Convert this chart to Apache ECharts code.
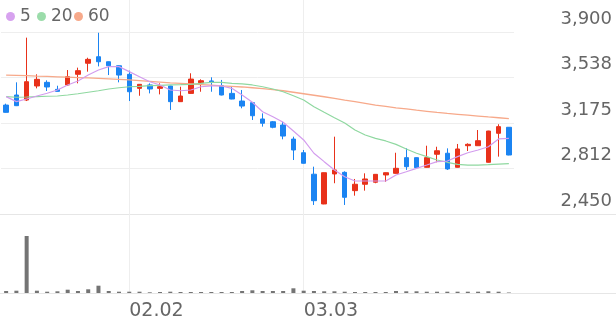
<!DOCTYPE html>
<html><head><meta charset="utf-8">
<script src="https://cdn.jsdelivr.net/npm/echarts@6/dist/echarts.min.js"></script>
<style>html,body{margin:0;padding:0;background:#fff}#c{width:616px;height:321px}</style>
</head><body><div id="c"></div>
<script>
const categories = ['01.15','01.18','01.19','01.20','01.21','01.22','01.25','01.26','01.27','01.28','01.29','02.01',
'02.02','02.03','02.04','02.05','02.08','02.09','02.10','02.15','02.16','02.17','02.18','02.22','02.23','02.24','02.25','02.26','03.02',
'03.03','03.04','03.05','03.08','03.09','03.10','03.11','03.12','03.15','03.16','03.17','03.18','03.19','03.22','03.23','03.24','03.25','03.26','03.29','03.30','03.31'];
const shownDates = ['02.02','03.03'];
const openP = [3318,3398,3358,3470,3499,3443,3478,3563,3651,3703,3663,3631,3563,3451,3478,3451,3470,3345,3411,3496,3510,3472,3411,3350,3337,3207,3185,3159,3047,2938,2767,2530,2769,2782,2636,2687,2703,2761,2774,2899,2899,2822,2926,2934,2822,2994,2994,2862,3093,3141];
const closeP = [3260,3313,3504,3523,3462,3427,3544,3592,3682,3663,3631,3557,3424,3483,3446,3464,3345,3390,3525,3512,3502,3398,3366,3310,3233,3173,3141,3071,2960,2854,2556,2779,2801,2583,2687,2729,2766,2779,2814,2827,2819,2899,2954,2809,2968,3005,3034,3111,3146,2920];
const lowP = [3258,3310,3350,3451,3430,3425,3470,3491,3584,3626,3557,3499,3350,3392,3411,3403,3279,3343,3409,3424,3424,3395,3364,3292,3199,3146,3133,3045,2880,2852,2522,2528,2695,2522,2596,2636,2695,2707,2772,2801,2809,2820,2862,2801,2820,2952,2992,2860,2907,2918];
const highP = [3329,3499,3855,3563,3515,3472,3597,3616,3695,3894,3665,3633,3592,3485,3491,3491,3472,3464,3571,3523,3539,3518,3462,3438,3339,3252,3191,3185,3066,2960,2827,2781,3066,2790,2729,2774,2768,2781,2938,2973,2901,2994,2986,2973,3008,3013,3119,3113,3165,3143];
const ma5 = [3385,3345,3366,3390,3412,3438,3478,3510,3557,3597,3624,3624,3584,3544,3504,3478,3438,3432,3438,3464,3470,3470,3451,3398,3340,3265,3225,3181,3111,3040,2934,2867,2801,2747,2713,2713,2713,2713,2761,2787,2814,2840,2867,2872,2907,2938,2960,2986,3048,3053];
const ma20 = [3385,3380,3382,3385,3388,3390,3398,3408,3420,3432,3446,3456,3464,3467,3472,3475,3478,3480,3483,3490,3498,3499,3491,3486,3478,3464,3446,3424,3392,3358,3305,3260,3217,3175,3119,3079,3053,3032,3005,2968,2934,2907,2880,2862,2846,2840,2840,2843,2848,2851];
const ma60 = [3557,3555,3553,3549,3546,3543,3540,3537,3534,3530,3526,3522,3518,3512,3506,3500,3494,3490,3486,3481,3476,3471,3467,3462,3456,3449,3441,3432,3420,3408,3396,3384,3372,3358,3345,3332,3318,3307,3296,3287,3277,3268,3259,3251,3244,3237,3230,3223,3217,3210];
const volume = [20000,23000,570000,23000,13000,17000,33000,20000,37000,73000,20000,13000,13000,13000,7000,10000,13000,10000,10000,10000,10000,10000,10000,20000,27000,20000,20000,20000,47000,23000,20000,17000,17000,13000,10000,10000,10000,10000,20000,17000,17000,13000,13000,13000,13000,13000,13000,17000,13000,5000];
const yTickLabels = ['2,450','2,812','3,175','3,538','3,900'];
const priceMin = 2450, priceMax = 3900;

const FONT = 'DejaVu Sans';
const UP = '#e8311a', DOWN = '#1b84f2';
const GRIDC = '#eeeeee';
const candleData = openP.map((o, i) => [o, closeP[i], lowP[i], highP[i]]);
const showDate = (i, v) => shownDates.indexOf(v) >= 0;

const chart = echarts.init(document.getElementById('c'), null, {renderer: 'canvas'});
const legendBase = {icon: 'circle', itemWidth: 9, itemHeight: 9, top: 3,
  textStyle: {fontFamily: FONT, fontSize: 17, color: '#666'}, selectedMode: false};
chart.setOption({
  animation: false,
  backgroundColor: '#fff',
  legend: [
    Object.assign({}, legendBase, {left: 1, data: ['5']}),
    Object.assign({}, legendBase, {left: 32, data: ['20']}),
    Object.assign({}, legendBase, {left: 69, data: ['60']})
  ],
  grid: [
    {left: 1, right: 102, top: 32, bottom: 107},
    {left: 1, right: 102, top: 236, bottom: 28},
    {left: 1, right: 102, top: 0, bottom: 28},
    {left: 0, right: 0, top: 214, bottom: 28}
  ],
  xAxis: [
    {gridIndex: 0, type: 'category', data: categories, boundaryGap: true,
     axisLine: {show: false}, axisTick: {show: false}, axisLabel: {show: false}, splitLine: {show: false}},
    {gridIndex: 1, type: 'category', data: categories, boundaryGap: true,
     axisLine: {show: false}, axisTick: {show: false}, splitLine: {show: false},
     axisLabel: {show: true, interval: showDate, align: 'left', margin: 9,
       fontFamily: FONT, fontSize: 19, color: '#666'}},
    {gridIndex: 2, type: 'category', data: categories, boundaryGap: true,
     axisLine: {show: false}, axisTick: {show: false}, axisLabel: {show: false},
     splitLine: {show: true, interval: showDate, alignWithLabel: true, lineStyle: {color: GRIDC, width: 1}}},
    {gridIndex: 3, type: 'value', show: false}
  ],
  yAxis: [
    {gridIndex: 0, type: 'value', min: priceMin, max: priceMax, show: false, splitLine: {show: false}},
    {gridIndex: 0, type: 'value', min: 0, max: 4, interval: 1, position: 'right',
     axisLine: {show: false}, axisTick: {show: false},
     splitLine: {show: true, lineStyle: {color: GRIDC, width: 1}},
     axisLabel: {formatter: v => yTickLabels[v], align: 'right', margin: 98, verticalAlign: 'bottom',
       padding: [0, 0, 4, 0], fontFamily: FONT, fontSize: 18, color: '#666'}},
    {gridIndex: 1, type: 'value', min: 0, max: 570000, show: false, splitLine: {show: false}},
    {gridIndex: 2, type: 'value', show: false},
    {gridIndex: 3, type: 'value', min: 0, max: 1, interval: 1,
     axisLine: {show: false}, axisTick: {show: false}, axisLabel: {show: false},
     splitLine: {show: true, lineStyle: {color: '#e6e6e6', width: 1}}}
  ],
  series: [
    {type: 'candlestick', name: 'price', xAxisIndex: 0, yAxisIndex: 0, data: candleData, barWidth: 5,
     itemStyle: {color: UP, color0: DOWN, borderColor: UP, borderColor0: DOWN, borderWidth: 1}},
    {type: 'line', name: '60', xAxisIndex: 0, yAxisIndex: 0, data: ma60, symbol: 'none', color: '#f7a98a',
     lineStyle: {width: 1.3, color: '#f7a98a'}},
    {type: 'line', name: '20', xAxisIndex: 0, yAxisIndex: 0, data: ma20, symbol: 'none', color: '#9bdcaa',
     lineStyle: {width: 1.2, color: '#8fd8a0'}},
    {type: 'line', name: '5', xAxisIndex: 0, yAxisIndex: 0, data: ma5, symbol: 'none', color: '#d7a2ef',
     lineStyle: {width: 1.2, color: '#d39cee'}},
    {type: 'bar', name: 'vol', xAxisIndex: 1, yAxisIndex: 2, data: volume, barWidth: 4,
     itemStyle: {color: '#747474'}}
  ]
});
</script></body></html>
